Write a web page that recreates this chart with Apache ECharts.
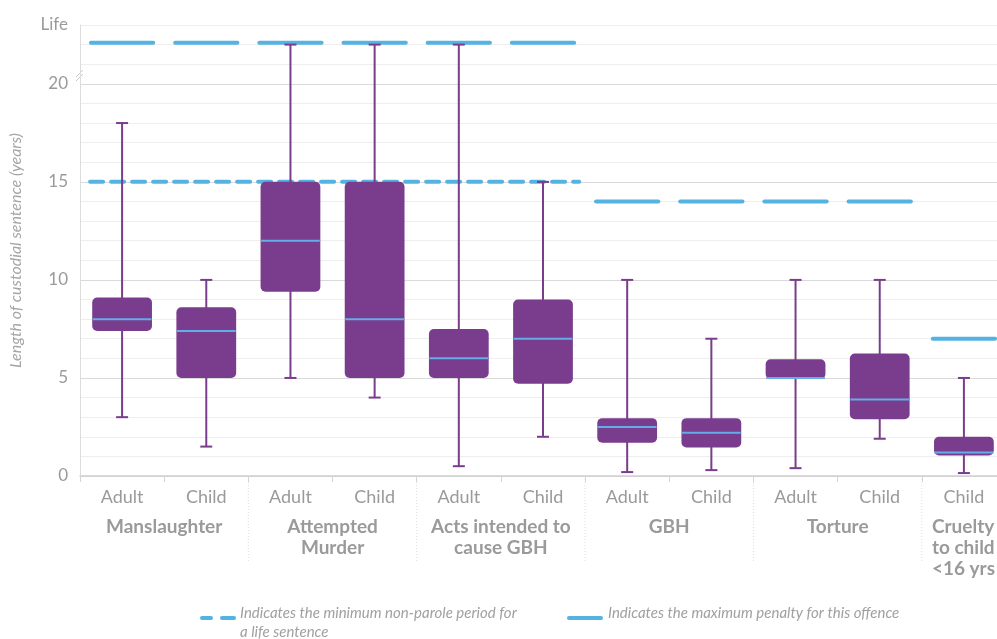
<!DOCTYPE html>
<html>
<head>
    <meta charset="UTF-8">
    <title>Custodial sentences</title>
    <script src="https://cdn.jsdelivr.net/npm/echarts@6/dist/echarts.min.js"></script>
    <style>
        html, body { margin: 0; padding: 0; background: #fff; }
    </style>
</head>
<body>
    <div id="main" style="width: 997px;height:639px;"></div>
    <script>
        // categories along the x axis
        var categories = ['Adult', 'Child', 'Adult', 'Child', 'Adult', 'Child', 'Adult', 'Child', 'Adult', 'Child', 'Child'];
        var groupNames = ['Manslaughter', 'Attempted\nMurder', 'Acts intended to\ncause GBH', 'GBH', 'Torture', 'Cruelty\nto child\n<16 yrs'];
        var groupSizes = [2, 2, 2, 2, 2, 1];

        // "Life" is drawn just above 22 on the axis
        var LIFE = 22.1;

        // box plot values (years)
        var whiskerLow  = [3.0, 1.5, 5.0, 4.0, 0.5, 2.0, 0.2, 0.3, 0.4, 1.9, 0.15];
        var q1          = [7.4, 5.0, 9.4, 5.0, 5.0, 4.7, 1.7, 1.45, 4.95, 2.9, 1.05];
        var median      = [8.0, 7.4, 12.0, 8.0, 6.0, 7.0, 2.5, 2.2, 5.0, 3.9, 1.2];
        var q3          = [9.1, 8.6, 15.0, 15.0, 7.5, 9.0, 2.95, 2.95, 5.95, 6.25, 2.0];
        var whiskerHigh = [18, 10, 22, 22, 22, 15, 10, 7, 10, 10, 5];

        // maximum penalty per category, and min non-parole period for life
        var maxPenalty = [LIFE, LIFE, LIFE, LIFE, LIFE, LIFE, 14, 14, 14, 14, 7];
        var nonParole = 15;
        var nonParoleFrom = 0, nonParoleTo = 5;

        var PURPLE = '#7a3d8d';
        var BLUE = '#55b3e2';
        var MEDIAN = '#62aee8';
        var GREY = '#9a9a9a';
        var FONT = 'Lato';

        var boxData = [];
        for (var i = 0; i < categories.length; i++) {
            boxData.push([i, whiskerLow[i], q1[i], median[i], q3[i], whiskerHigh[i]]);
        }
        var penaltyData = [];
        for (var j = 0; j < maxPenalty.length; j++) {
            penaltyData.push([j, maxPenalty[j]]);
        }

        var chart = echarts.init(document.getElementById('main'));

        chart.setOption({
            animation: false,
            // plot runs past the right edge of the picture
            grid: { left: 80, width: 926, top: 25, bottom: 163, outerBoundsMode: 'none', containLabel: false },
            xAxis: {
                type: 'category',
                data: categories,
                axisLine: { lineStyle: { color: '#cfcfcf', width: 1.5 } },
                axisTick: { show: true, interval: 0, length: 6, lineStyle: { color: '#d5d5d5' } },
                axisLabel: { color: GREY, fontFamily: FONT, fontSize: 18, margin: 12, interval: 0 },
                splitLine: { show: false }
            },
            yAxis: {
                type: 'value',
                min: 0,
                max: 23,
                interval: 1,
                name: 'Length of custodial sentence (years)',
                nameLocation: 'middle',
                nameGap: 56,
                nameTextStyle: { color: '#a5a5a5', fontFamily: FONT, fontStyle: 'italic', fontSize: 16 },
                axisLine: { show: true, lineStyle: { color: '#dcdcdc' } },
                axisTick: { show: false },
                axisLabel: {
                    color: GREY, fontFamily: FONT, fontSize: 17, margin: 12,
                    formatter: function (v) {
                        if (v === 23) return 'Life';
                        return v % 5 === 0 && v <= 20 ? String(v) : '';
                    }
                },
                splitLine: { lineStyle: { color: ['#dadada', '#eeeeee', '#eeeeee', '#eeeeee', '#eeeeee'] } }
            },
            series: [
                {
                    // minimum non-parole period (dashed)
                    type: 'custom',
                    data: [[nonParoleFrom, nonParoleTo, nonParole]],
                    z: 3,
                    renderItem: function (params, api) {
                        var band = api.size([1, 0])[0];
                        var a = api.coord([api.value(0), api.value(2)]);
                        var b = api.coord([api.value(1), api.value(2)]);
                        return {
                            type: 'line',
                            shape: { x1: a[0] - band * 0.38, y1: a[1], x2: b[0] + band * 0.43, y2: b[1] },
                            style: { stroke: BLUE, lineWidth: 4, lineDash: [13, 8], lineCap: 'round' }
                        };
                    }
                },
                {
                    // maximum penalty per category
                    type: 'custom',
                    data: penaltyData,
                    z: 3,
                    renderItem: function (params, api) {
                        var band = api.size([1, 0])[0];
                        var p = api.coord([api.value(0), api.value(1)]);
                        var hw = band * 0.37;
                        return {
                            type: 'line',
                            shape: { x1: p[0] - hw, y1: p[1], x2: p[0] + hw, y2: p[1] },
                            style: { stroke: BLUE, lineWidth: 4, lineCap: 'round' }
                        };
                    }
                },
                {
                    // box plots
                    type: 'custom',
                    data: boxData,
                    z: 4,
                    renderItem: function (params, api) {
                        var idx = api.value(0);
                        var band = api.size([1, 0])[0];
                        var bw = band * 0.71;
                        var cap = 6;
                        var lo = api.coord([idx, api.value(1)]);
                        var b1 = api.coord([idx, api.value(2)]);
                        var md = api.coord([idx, api.value(3)]);
                        var b3 = api.coord([idx, api.value(4)]);
                        var hi = api.coord([idx, api.value(5)]);
                        var x = lo[0];
                        var wStyle = { stroke: PURPLE, lineWidth: 2 };
                        return {
                            type: 'group',
                            children: [
                                { type: 'line', shape: { x1: x, y1: hi[1], x2: x, y2: lo[1] }, style: wStyle },
                                { type: 'line', shape: { x1: x - cap, y1: hi[1], x2: x + cap, y2: hi[1] }, style: wStyle },
                                { type: 'line', shape: { x1: x - cap, y1: lo[1], x2: x + cap, y2: lo[1] }, style: wStyle },
                                {
                                    type: 'rect',
                                    shape: { x: x - bw / 2, y: b3[1], width: bw, height: b1[1] - b3[1], r: 5 },
                                    style: { fill: PURPLE }
                                },
                                {
                                    type: 'line',
                                    shape: { x1: x - bw / 2 + 0.5, y1: md[1], x2: x + bw / 2 - 0.5, y2: md[1] },
                                    style: { stroke: MEDIAN, lineWidth: 2 }
                                }
                            ]
                        };
                    }
                }
            ]
        });

        // group labels, separators, axis break and legend
        function px(idx, val) {
            return chart.convertToPixel({ xAxisIndex: 0, yAxisIndex: 0 }, [idx, val]);
        }
        var band = px(1, 0)[0] - px(0, 0)[0];
        var base = px(0, 0)[1];
        var gfx = [];
        var start = 0;
        for (var g = 0; g < groupNames.length; g++) {
            var first = px(start, 0)[0];
            var last = px(start + groupSizes[g] - 1, 0)[0];
            var single = groupSizes[g] === 1;
            gfx.push({
                type: 'text',
                x: single ? first - band * 0.38 : (first + last) / 2,
                y: base + 40,
                style: {
                    text: groupNames[g],
                    fill: GREY,
                    font: 'bold 19px ' + FONT,
                    align: single ? 'left' : 'center',
                    verticalAlign: 'top',
                    lineHeight: 21
                }
            });
            if (g > 0) {
                var sx = first - band / 2;
                gfx.push({
                    type: 'line',
                    shape: { x1: sx, y1: base, x2: sx, y2: base + 86 },
                    style: { stroke: '#dddddd', lineWidth: 1, lineDash: [1, 2] }
                });
            }
            start += groupSizes[g];
        }

        // axis break marks between 20 and 21
        var brk = px(0, 20.5);
        var ax = brk[0] - band / 2;
        gfx.push({ type: 'line', shape: { x1: ax - 4, y1: brk[1] + 3, x2: ax + 3, y2: brk[1] - 4 }, style: { stroke: '#c8c8c8', lineWidth: 1 } });
        gfx.push({ type: 'line', shape: { x1: ax - 4, y1: brk[1] + 7, x2: ax + 3, y2: brk[1] }, style: { stroke: '#c8c8c8', lineWidth: 1 } });

        // legend
        gfx.push({ type: 'line', shape: { x1: 202, y1: 618, x2: 211, y2: 618 }, style: { stroke: BLUE, lineWidth: 4, lineCap: 'round' } });
        gfx.push({ type: 'line', shape: { x1: 222, y1: 618, x2: 234, y2: 618 }, style: { stroke: BLUE, lineWidth: 4, lineCap: 'round' } });
        gfx.push({
            type: 'text', x: 240, y: 604,
            style: {
                text: 'Indicates the minimum non-parole period for\na life sentence',
                fill: '#a0a0a0', font: 'italic 15px ' + FONT, lineHeight: 19, verticalAlign: 'top'
            }
        });
        gfx.push({ type: 'line', shape: { x1: 569, y1: 618, x2: 601, y2: 618 }, style: { stroke: BLUE, lineWidth: 4, lineCap: 'round' } });
        gfx.push({
            type: 'text', x: 608, y: 604,
            style: {
                text: 'Indicates the maximum penalty for this offence',
                fill: '#a0a0a0', font: 'italic 15px ' + FONT, lineHeight: 19, verticalAlign: 'top'
            }
        });

        chart.setOption({ graphic: gfx });
    </script>
</body>
</html>
